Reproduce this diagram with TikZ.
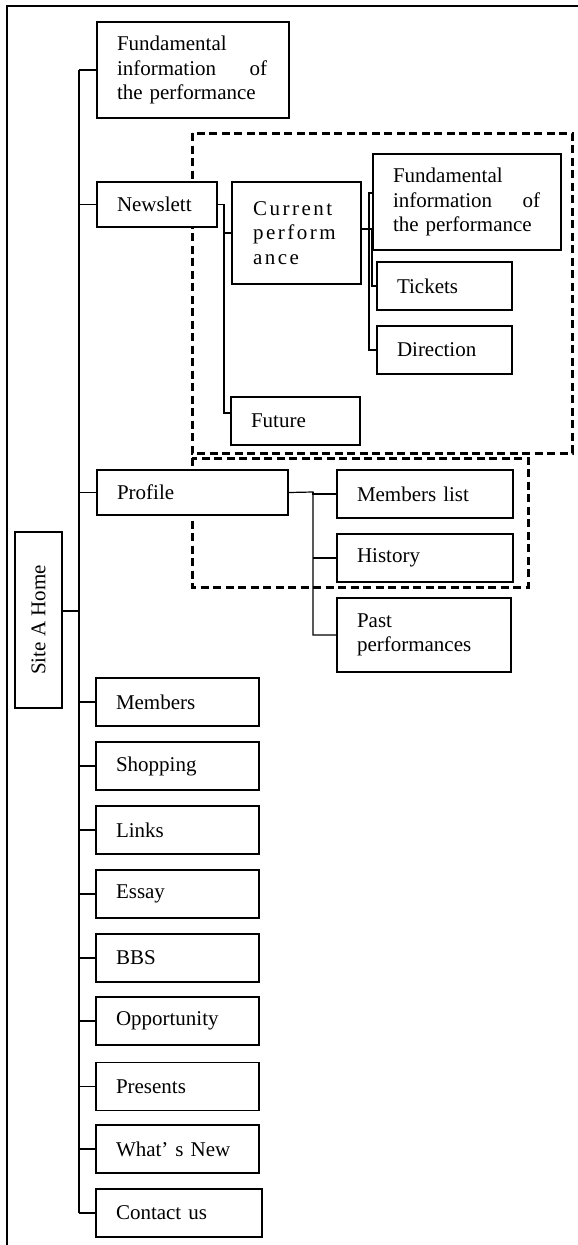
\documentclass[tikz,border=0pt]{standalone}
\usepackage{fontspec}
\setmainfont{Liberation Serif}
\begin{document}
\begin{tikzpicture}[x=1pt,y=-1pt,
  box/.style={draw, fill=white, line width=1.2pt, rectangle, inner xsep=20pt, inner ysep=0pt,
    align=left, anchor=center, font=\fontsize{21}{24.5}\selectfont},
  link/.style={line width=1.2pt},
  group/.style={draw, line width=3pt, dash pattern=on 8pt off 4.5pt}]
\useasboundingbox (0,0) rectangle (578,1245);

% page frame
\draw[line width=1.4pt] (7,1245) -- (7,6) -- (578,6);

% highlighted groups
\draw[group] (192,133) rectangle (572,453);
\draw[group] (192,458) rectangle (528,587);

% root
\node[box, rotate=90, align=center, inner xsep=0pt, minimum width=176, minimum height=47] (home) at (38.5,620) {Site A Home};

% first level
\node[box, minimum width=192, minimum height=96, text width=152] (fund) at (193,70)
  {Fundamental\\\makebox[150pt][l]{information\hfill of}\\the performance};
\node[box, minimum height=45, text width=80] (news) at (157,204.5) {Newslett};
\node[box, minimum height=45, text width=151] (profile) at (192.5,492.5) {Profile};
\foreach \name/\txt/\yy in {members/Members/702, shopping/Shopping/766, links/Links/830,
    essay/Essay/894, bbs/BBS/958, opport/Opportunity/1021, presents/Presents/1086.5,
    whatsnew/What' s New/1149}
  \node[box, minimum height=48, text width=123] (\name) at (177.5,\yy) {\txt};
\node[box, minimum height=48, text width=126] (contact) at (179,1213) {Contact us};

% newsletter branch
\node[box, minimum height=102, text width=87, inner xsep=21pt] (current) at (296.5,233)
  {\addfontfeature{LetterSpace=12}Current\\perform\\ance};
\node[box, minimum height=48, text width=89] (future) at (295.5,421) {Future};
\node[box, minimum width=188, minimum height=96, text width=148] (fund2) at (467,202)
  {Fundamental\\\makebox[147pt][l]{information\hfill of}\\the performance};
\node[box, minimum height=48, text width=95] (tickets) at (444.5,286) {Tickets};
\node[box, minimum height=48, text width=95] (direction) at (444.5,350) {Direction};

% profile branch
\node[box, minimum height=48, text width=136] (mlist) at (425,494) {Members list};
\node[box, minimum height=48, text width=136] (history) at (425,558) {History};
\node[box, minimum height=74, text width=134] (past) at (424,635) {Past\\performances};

% trunk
\coordinate (trunkT) at (79,70);
\coordinate (trunkB) at (79,1213);
\draw[link] (trunkT) -- (trunkB);
\foreach \n in {fund, news, profile, members, shopping, links, essay, bbs, opport,
    presents, whatsnew, contact}
  \draw[link] (\n.west) -- (\n.west -| trunkT);
\draw[link] ([yshift=9pt]home.south) -- ([yshift=9pt]home.south -| trunkT);

% newsletter connectors
\coordinate (nv) at (224,205);
\draw[link] (news.east) -| (nv) |- ([yshift=8pt]future.west);
\draw[link] (nv |- current.west) -- (current.west);

% current performance connectors
\coordinate (cv) at (369,229);
\draw[link] ([yshift=4pt]current.east) -- (cv);
\draw[link] ([yshift=9pt]fund2.west) -| (cv) |- (direction.west);
\draw[link] ([yshift=4pt]current.east) -| ([xshift=3pt]cv) |- (tickets.west);

% profile connectors
\coordinate (pv) at (313,492);
\draw[link] (profile.east) -- (pv) |- (past.west);
\draw[link] (pv) -- (pv |- mlist.west) -- (mlist.west);
\draw[link] (pv |- history.west) -- (history.west);
\end{tikzpicture}
\end{document}
